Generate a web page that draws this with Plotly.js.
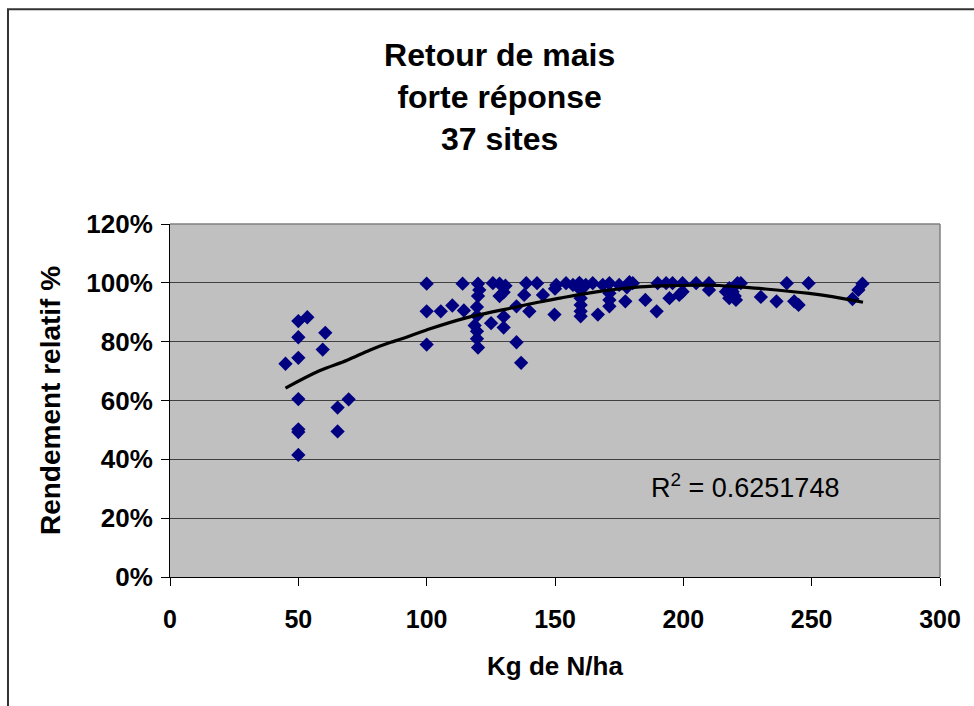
<!DOCTYPE html>
<html>
<head>
<meta charset="utf-8">
<script src="https://cdn.plot.ly/plotly-3.0.1.min.js"></script>
<style>html,body{margin:0;padding:0;background:#fff;}#chart{width:974px;height:706px;}</style>
</head>
<body>
<div id="chart"></div>
<script>
// Observed points: nitrogen dose (kg N/ha) and relative yield (%)
const doseN = [
  45, 50, 50, 50, 50, 50, 50, 50, 53.5, 60.5, 59.5, 65.3, 65.3, 69.6,
  100, 100, 100, 105.5, 110, 114, 114.5,
  120, 120.5, 120, 119.6, 119.6, 118.7, 119.6, 119.6, 120,
  125.8, 125.1, 128.4, 130.7, 128.4, 130, 130, 130,
  135, 136.8, 135, 138.8, 138, 140, 143, 145.3,
  150.5, 150, 149.8, 154.3, 157, 159.5, 160, 160, 160, 160, 160, 162,
  164.7, 166.7, 168.6, 171.2, 171.2, 171.2, 171.2, 175, 177.4, 179, 180.3, 178,
  185.2, 189.6, 190, 193.3, 194.6, 195.8, 198.4, 199.7, 199.7, 205, 210, 210,
  216.6, 219.2, 217.9, 220.5, 217.9, 221.1, 222.4, 220,
  230.2, 236.3, 240.3, 243.2, 244.9, 248.8, 265.9, 268.2, 269.8
];
const rendement = [
  72.5, 87, 81.5, 74.5, 60.5, 50.2, 49.3, 41.5, 88.3, 83, 77.3, 57.6, 49.5, 60.4,
  99.7, 90.3, 79, 90.3, 92.3, 99.7, 90.6,
  99.7, 97.6, 95.5, 91.8, 88.8, 85.5, 83.5, 81, 78,
  99.9, 86.3, 99.7, 99, 95.5, 96.8, 88.5, 84.8,
  79.8, 72.8, 92, 99.9, 95.9, 90.3, 99.9, 95.9,
  99.3, 98, 89.2, 99.9, 99.3, 100, 97.6, 94.8, 92.5, 90.3, 88.6, 99.3,
  99.9, 89.2, 99.3, 99.9, 96.5, 94.2, 92, 99.3, 93.7, 100.2, 99.9, 98.5,
  94.2, 90.3, 99.9, 99.9, 94.8, 99.9, 95.9, 97, 99.9, 99.9, 99.9, 97.6,
  97, 97, 94.8, 94.2, 98.2, 99.9, 99.9, 95.5,
  95.2, 93.7, 99.9, 93.7, 92.5, 99.9, 94.5, 97.6, 99.7
];
// Polynomial trend line as drawn in the reference
const trendX = [45, 58, 69, 78, 86, 90, 100, 115, 135, 144, 152, 163, 183, 198, 206, 214, 222, 232, 249, 258, 270];
const trendY = [64.2, 70.0, 73.7, 77.2, 79.8, 80.9, 84.0, 88.0, 91.8, 93.5, 94.8, 96.5, 98.6, 99.1, 99.2, 99.1, 98.6, 97.9, 96.4, 95.3, 93.4];
const rSquared = "0.6251748";
const titleLines = ["Retour de mais", "forte réponse", "37 sites"];
const xTitle = "Kg de N/ha";
const yTitle = "Rendement relatif %";

const FONT = "Liberation Sans, Arial, Helvetica, sans-serif";

const traces = [
  {
    type: "scatter", mode: "markers", x: doseN, y: rendement,
    marker: {symbol: "diamond", size: 11, color: "#000080", line: {width: 0}},
    hoverinfo: "x+y", showlegend: false
  },
  {
    type: "scatter", mode: "lines", x: trendX, y: trendY,
    line: {color: "#000000", width: 3.2, shape: "spline"},
    hoverinfo: "skip", showlegend: false
  }
];

const layout = {
  width: 974, height: 706,
  margin: {l: 170, r: 34, t: 224, b: 129},
  paper_bgcolor: "#ffffff",
  plot_bgcolor: "#C0C0C0",
  font: {family: FONT, color: "#000"},
  showlegend: false,
  title: {
    text: titleLines.join("<br>"),
    font: {family: FONT, size: 32, weight: "bold", color: "#000"},
    xref: "container", yref: "container",
    x: 0.513, xanchor: "center",
    y: 0.906, yanchor: "top"
  },
  xaxis: {
    range: [0, 300], dtick: 50, tick0: 0,
    showgrid: false, zeroline: false,
    showline: true, linecolor: "#000", linewidth: 1,
    ticks: "outside", ticklen: 8, tickcolor: "#000", tickwidth: 1,
    tickfont: {family: FONT, size: 25, weight: "bold", color: "#000"},
    ticklabelstandoff: 12,
    title: {text: xTitle, font: {family: FONT, size: 26, weight: "bold", color: "#000"}, standoff: 24},
    automargin: false, fixedrange: true
  },
  yaxis: {
    range: [0, 120], dtick: 20, tick0: 0,
    ticksuffix: "%",
    showgrid: true, gridcolor: "#404040", gridwidth: 1,
    zeroline: false,
    showline: true, linecolor: "#000", linewidth: 1,
    ticks: "outside", ticklen: 8, tickcolor: "#000", tickwidth: 1,
    tickfont: {family: FONT, size: 26, weight: "bold", color: "#000"},
    ticklabelstandoff: 3,
    title: {text: yTitle, font: {family: FONT, size: 28, weight: "bold", color: "#000"}, standoff: 17},
    automargin: false, fixedrange: true
  },
  annotations: [
    {
      xref: "x", yref: "y", x: 224, y: 31,
      text: "R<sup>2</sup> = " + rSquared,
      showarrow: false,
      font: {family: FONT, size: 27, color: "#000"},
      xanchor: "center", yanchor: "middle"
    }
  ],
  shapes: [
    // outer chart border (left & top visible in the reference)
    {type: "rect", xref: "paper", yref: "paper", x0: -0.2104, x1: 1.2, y0: -0.5, y1: 1.6085,
     line: {color: "#333333", width: 2}, fillcolor: "rgba(0,0,0,0)", layer: "below"},
    // plot area border (top & right, gray)
    {type: "line", xref: "paper", yref: "paper", x0: 0, x1: 1, y0: 1, y1: 1, line: {color: "#808080", width: 1.5}},
    {type: "line", xref: "paper", yref: "paper", x0: 1, x1: 1, y0: 0, y1: 1, line: {color: "#808080", width: 1.5}}
  ]
};

Plotly.newPlot("chart", traces, layout, {displayModeBar: false});
</script>
</body>
</html>
